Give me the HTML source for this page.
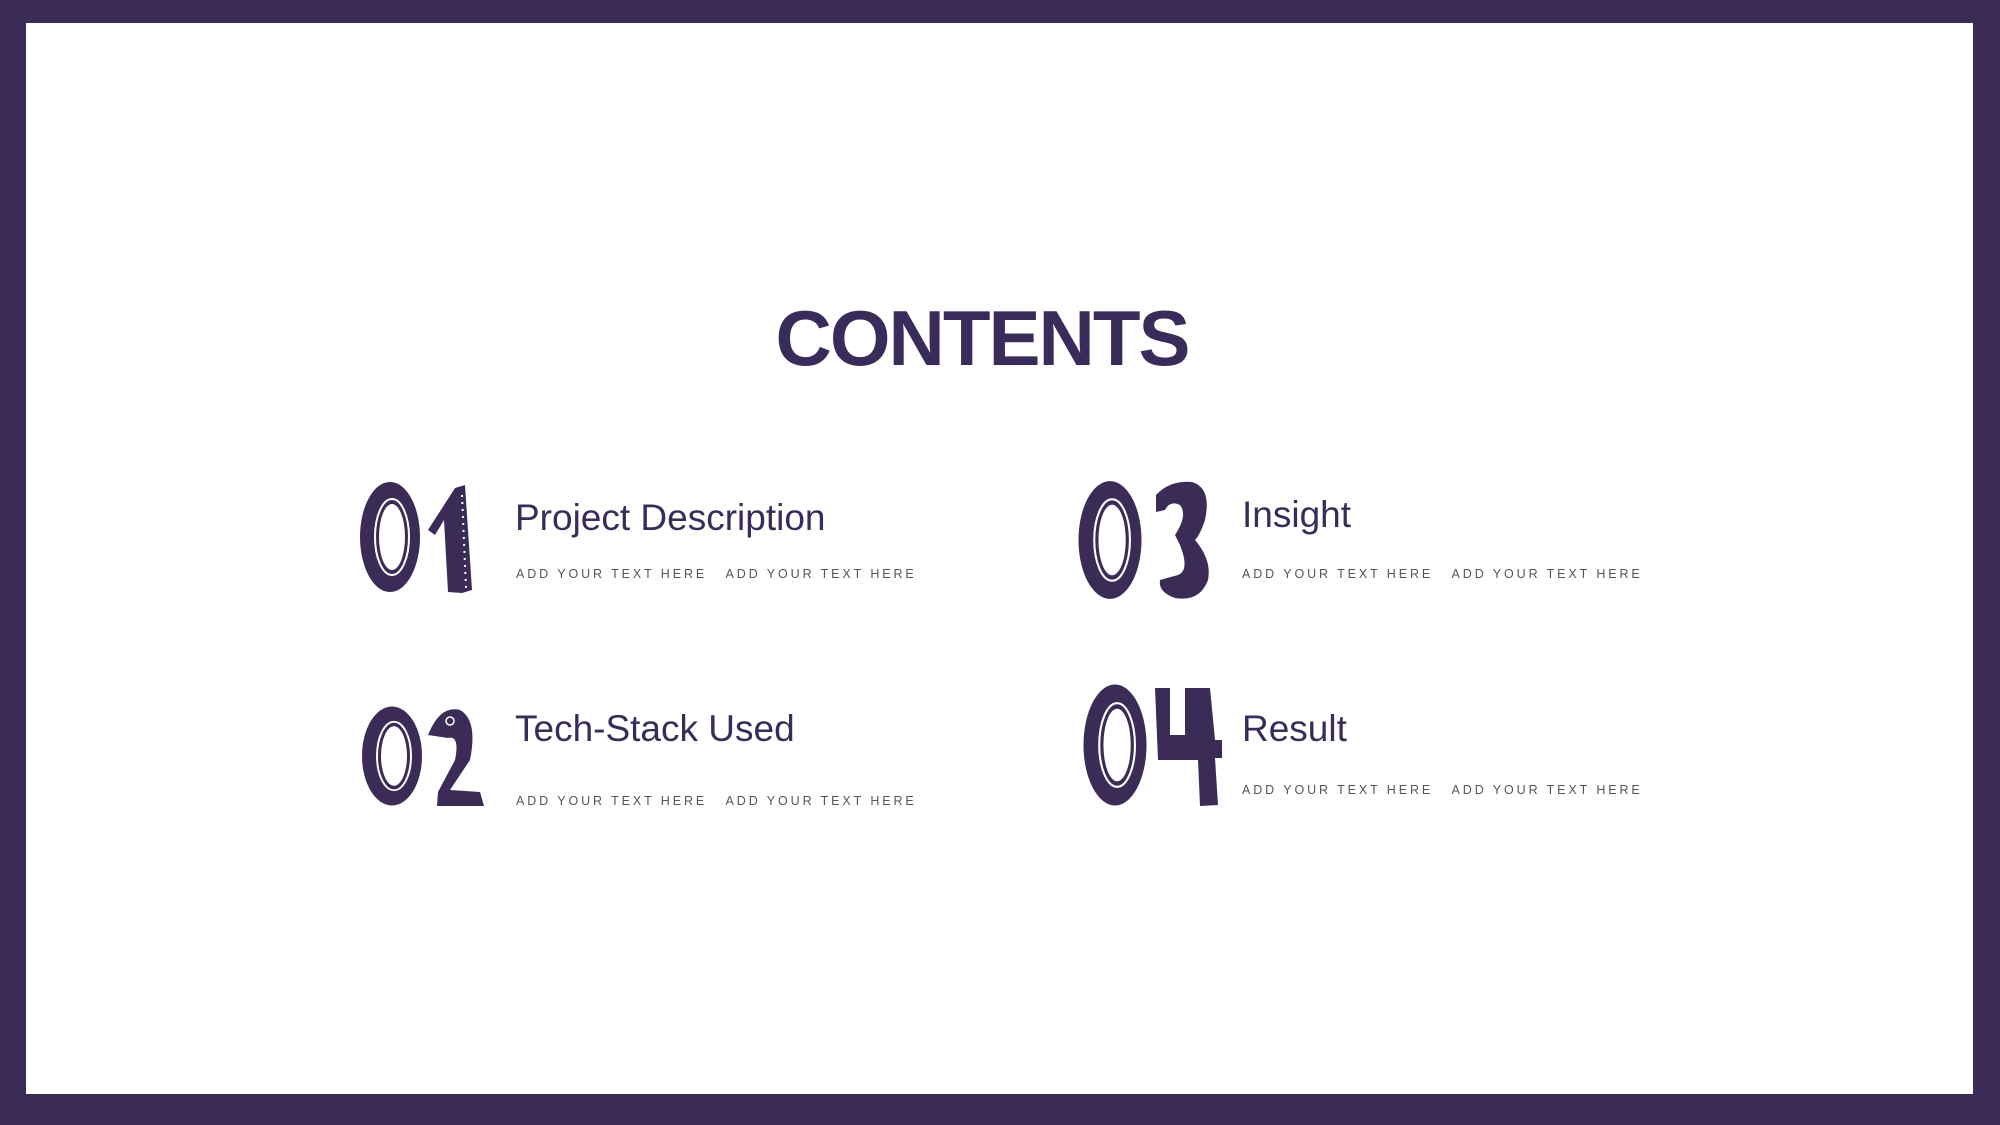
<!DOCTYPE html>
<html><head><meta charset="utf-8"><style>
html,body{margin:0;padding:0}
body{width:2000px;height:1125px;background:#3a2c57;position:relative;overflow:hidden;font-family:"Liberation Sans",sans-serif}
.inner{position:absolute;left:26px;top:23px;width:1947px;height:1071px;background:#fff}
.t{position:absolute;color:#3a2c5a;white-space:nowrap}
.title{left:0;width:1964px;text-align:center;top:293px;font-size:78px;font-weight:bold;letter-spacing:-2px}
.h{font-size:37px;line-height:40px}
.s{font-size:12.5px;letter-spacing:2.9px;color:#555}
svg{position:absolute;left:0;top:0}
</style></head><body>
<div class="inner"></div>
<div class="t title">CONTENTS</div>

<div class="t h" style="left:515px;top:498px">Project Description</div>
<div class="t s" style="left:516px;top:567px">ADD YOUR TEXT HERE &nbsp; ADD YOUR TEXT HERE</div>
<div class="t h" style="left:1242px;top:495px">Insight</div>
<div class="t s" style="left:1242px;top:567px">ADD YOUR TEXT HERE &nbsp; ADD YOUR TEXT HERE</div>
<div class="t h" style="left:515px;top:709px">Tech-Stack Used</div>
<div class="t s" style="left:516px;top:794px">ADD YOUR TEXT HERE &nbsp; ADD YOUR TEXT HERE</div>
<div class="t h" style="left:1242px;top:709px">Result</div>
<div class="t s" style="left:1242px;top:783px">ADD YOUR TEXT HERE &nbsp; ADD YOUR TEXT HERE</div>

<svg width="2000" height="1125" viewBox="0 0 2000 1125">
<defs>
<g id="zero">
<ellipse cx="0" cy="0" rx="30" ry="55" fill="#3a2c57"/>
<ellipse cx="2" cy="0" rx="17" ry="38" fill="none" stroke="#fff" stroke-width="2"/>
<ellipse cx="2" cy="0" rx="13" ry="33" fill="#fff"/>
</g>
</defs>
<use href="#zero" transform="translate(390,537)"/>
<path d="M428,530 L455,488 L465,485 L472,590 L462,593 L448,592 L444,520 L435,535 Z" fill="#3a2c57"/>
<line x1="462" y1="495" x2="466" y2="588" stroke="#fff" stroke-width="2" stroke-dasharray="2 5"/>
<use href="#zero" transform="translate(392,756) scale(1,0.9)"/>
<path d="M428,735 Q440,705 460,710 Q478,720 470,760 L450,790 L480,792 L484,806 L437,806 L438,792 L455,760 Q460,735 448,738 Z" fill="#3a2c57"/>
<circle cx="450" cy="721" r="4" fill="none" stroke="#fff" stroke-width="1.5"/>
<use href="#zero" transform="translate(1110,540) scale(1.05,1.07)"/>
<path d="M1156,495 Q1170,480 1192,482 Q1212,488 1205,520 Q1200,535 1195,540 Q1212,560 1208,580 Q1200,602 1175,598 Q1158,592 1160,580 L1178,575 Q1190,570 1180,545 L1175,535 Q1188,515 1180,505 Q1170,500 1165,510 L1156,512 Z" fill="#3a2c57"/>
<use href="#zero" transform="translate(1115,745) scale(1.05,1.1)"/>
<path d="M1155,688 L1170,688 L1170,735 L1185,735 L1185,688 L1210,688 L1215,740 L1222,740 L1222,758 L1215,758 L1218,805 L1200,806 L1198,760 L1158,760 Z" fill="#3a2c57"/>
</svg>
</body></html>
